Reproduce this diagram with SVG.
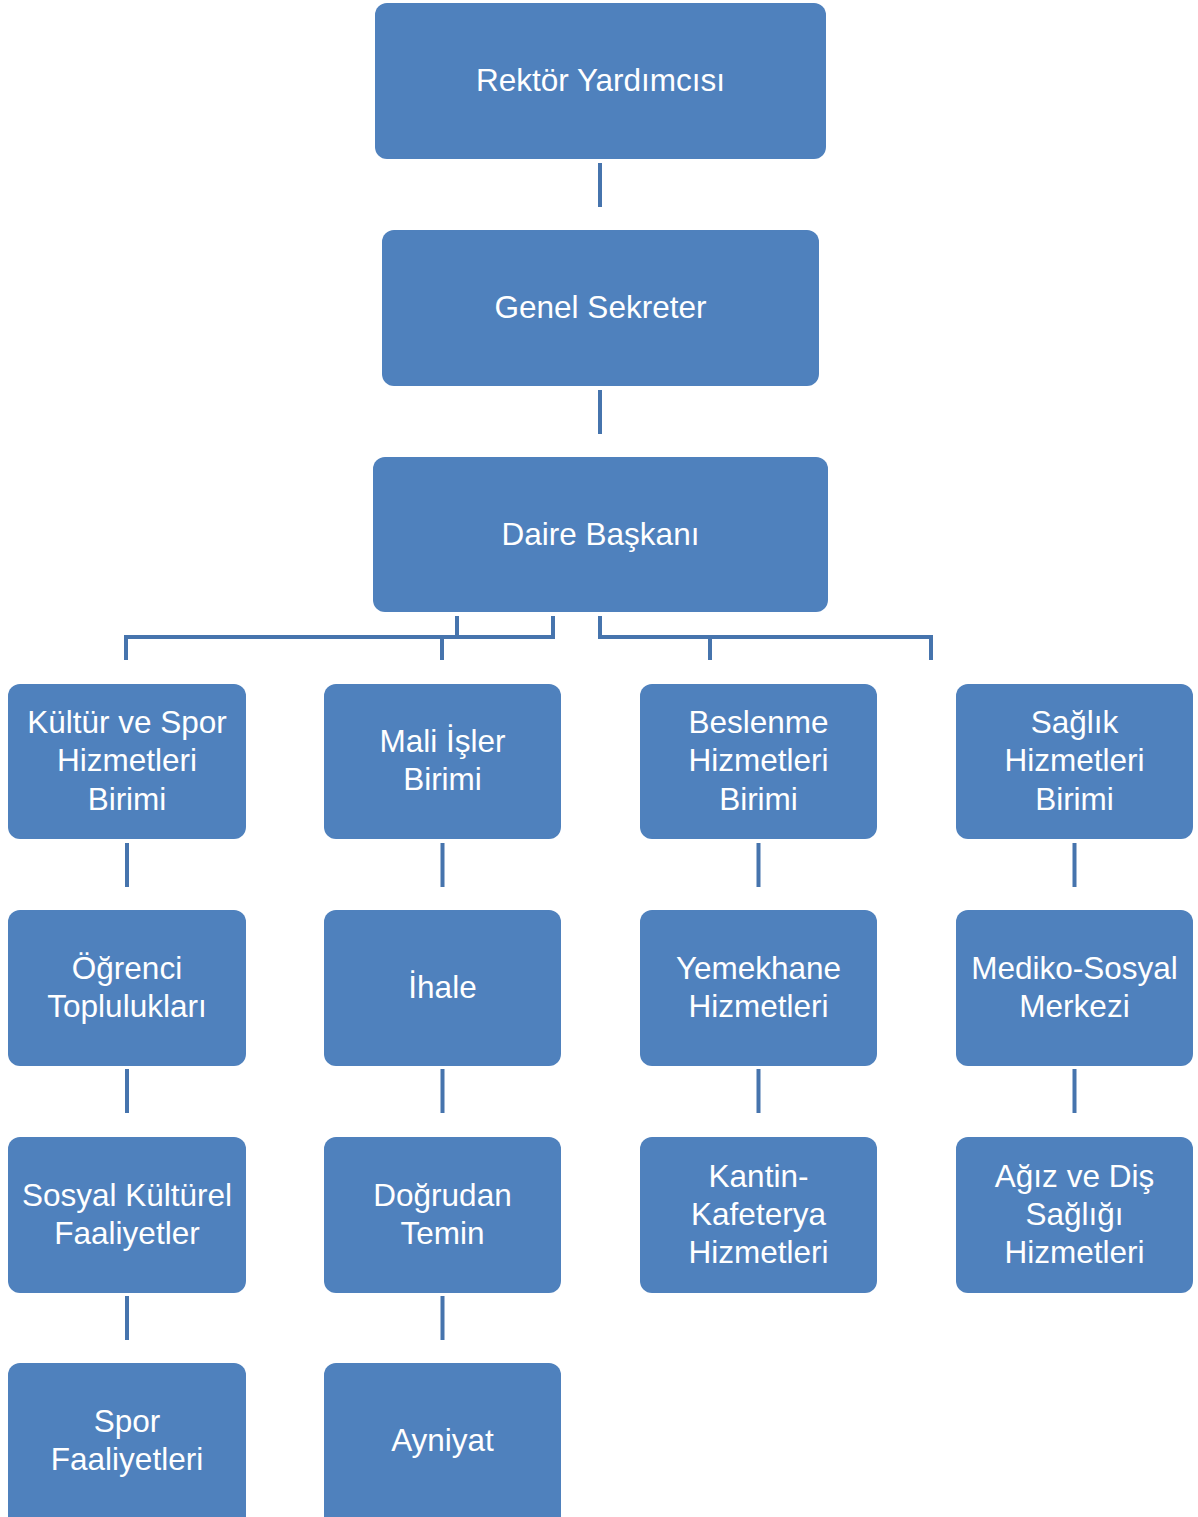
<svg xmlns="http://www.w3.org/2000/svg" width="1198" height="1517" viewBox="0 0 1198 1517">
<style>
.box{fill:#4f81bd;}
.t{font-family:"Liberation Sans",Arial,sans-serif;font-size:31.5px;fill:#ffffff;text-anchor:middle;}
.c{stroke:#4674ad;stroke-width:4;fill:none;stroke-linejoin:miter;}
</style>
<rect width="1198" height="1517" fill="#ffffff"/>
<g id="connectors">
<path class="c" d="M600 163V207M600 390V434"/>
<path class="c" d="M126 660V637H553V616M457 616V637M442 637V660"/>
<path class="c" d="M600 616V637H931V660M710 637V660"/>
<path class="c" d="M127 843V887M127 1069V1113M127 1296V1340"/>
<path class="c" d="M442.5 843V887M442.5 1069V1113M442.5 1296V1340"/>
<path class="c" d="M758.5 843V887M758.5 1069V1113"/>
<path class="c" d="M1074.5 843V887M1074.5 1069V1113"/>
</g>
<g id="rektor"><rect class="box" x="375" y="3" width="451" height="156" rx="12"/><text class="t" x="600.5" y="91">Rektör Yardımcısı</text></g>
<g id="genel"><rect class="box" x="382" y="230" width="437" height="156" rx="12"/><text class="t" x="600.5" y="318">Genel Sekreter</text></g>
<g id="daire"><rect class="box" x="373" y="457" width="455" height="155" rx="12"/><text class="t" x="600.5" y="545">Daire Başkanı</text></g>

<g id="kultur"><rect class="box" x="8" y="684" width="238" height="155" rx="12"/><text class="t" x="127" y="733">Kültür ve Spor</text><text class="t" x="127" y="771">Hizmetleri</text><text class="t" x="127" y="810">Birimi</text></g>
<g id="mali"><rect class="box" x="324" y="684" width="237" height="155" rx="12"/><text class="t" x="442.5" y="752">Mali İşler</text><text class="t" x="442.5" y="790">Birimi</text></g>
<g id="beslenme"><rect class="box" x="640" y="684" width="237" height="155" rx="12"/><text class="t" x="758.5" y="733">Beslenme</text><text class="t" x="758.5" y="771">Hizmetleri</text><text class="t" x="758.5" y="810">Birimi</text></g>
<g id="saglik"><rect class="box" x="956" y="684" width="237" height="155" rx="12"/><text class="t" x="1074.5" y="733">Sağlık</text><text class="t" x="1074.5" y="771">Hizmetleri</text><text class="t" x="1074.5" y="810">Birimi</text></g>

<g id="ogrenci"><rect class="box" x="8" y="910" width="238" height="156" rx="12"/><text class="t" x="127" y="979">Öğrenci</text><text class="t" x="127" y="1017">Toplulukları</text></g>
<g id="ihale"><rect class="box" x="324" y="910" width="237" height="156" rx="12"/><text class="t" x="442.5" y="998">İhale</text></g>
<g id="yemekhane"><rect class="box" x="640" y="910" width="237" height="156" rx="12"/><text class="t" x="758.5" y="979">Yemekhane</text><text class="t" x="758.5" y="1017">Hizmetleri</text></g>
<g id="mediko"><rect class="box" x="956" y="910" width="237" height="156" rx="12"/><text class="t" x="1074.5" y="979">Mediko-Sosyal</text><text class="t" x="1074.5" y="1017">Merkezi</text></g>

<g id="sosyal"><rect class="box" x="8" y="1137" width="238" height="156" rx="12"/><text class="t" x="127" y="1206">Sosyal Kültürel</text><text class="t" x="127" y="1244">Faaliyetler</text></g>
<g id="dogrudan"><rect class="box" x="324" y="1137" width="237" height="156" rx="12"/><text class="t" x="442.5" y="1206">Doğrudan</text><text class="t" x="442.5" y="1244">Temin</text></g>
<g id="kantin"><rect class="box" x="640" y="1137" width="237" height="156" rx="12"/><text class="t" x="758.5" y="1187">Kantin-</text><text class="t" x="758.5" y="1225">Kafeterya</text><text class="t" x="758.5" y="1263">Hizmetleri</text></g>
<g id="agiz"><rect class="box" x="956" y="1137" width="237" height="156" rx="12"/><text class="t" x="1074.5" y="1187">Ağız ve Diş</text><text class="t" x="1074.5" y="1225">Sağlığı</text><text class="t" x="1074.5" y="1263">Hizmetleri</text></g>

<g id="spor"><rect class="box" x="8" y="1363" width="238" height="170" rx="12"/><text class="t" x="127" y="1432">Spor</text><text class="t" x="127" y="1470">Faaliyetleri</text></g>
<g id="ayniyat"><rect class="box" x="324" y="1363" width="237" height="170" rx="12"/><text class="t" x="442.5" y="1451">Ayniyat</text></g>
</svg>
